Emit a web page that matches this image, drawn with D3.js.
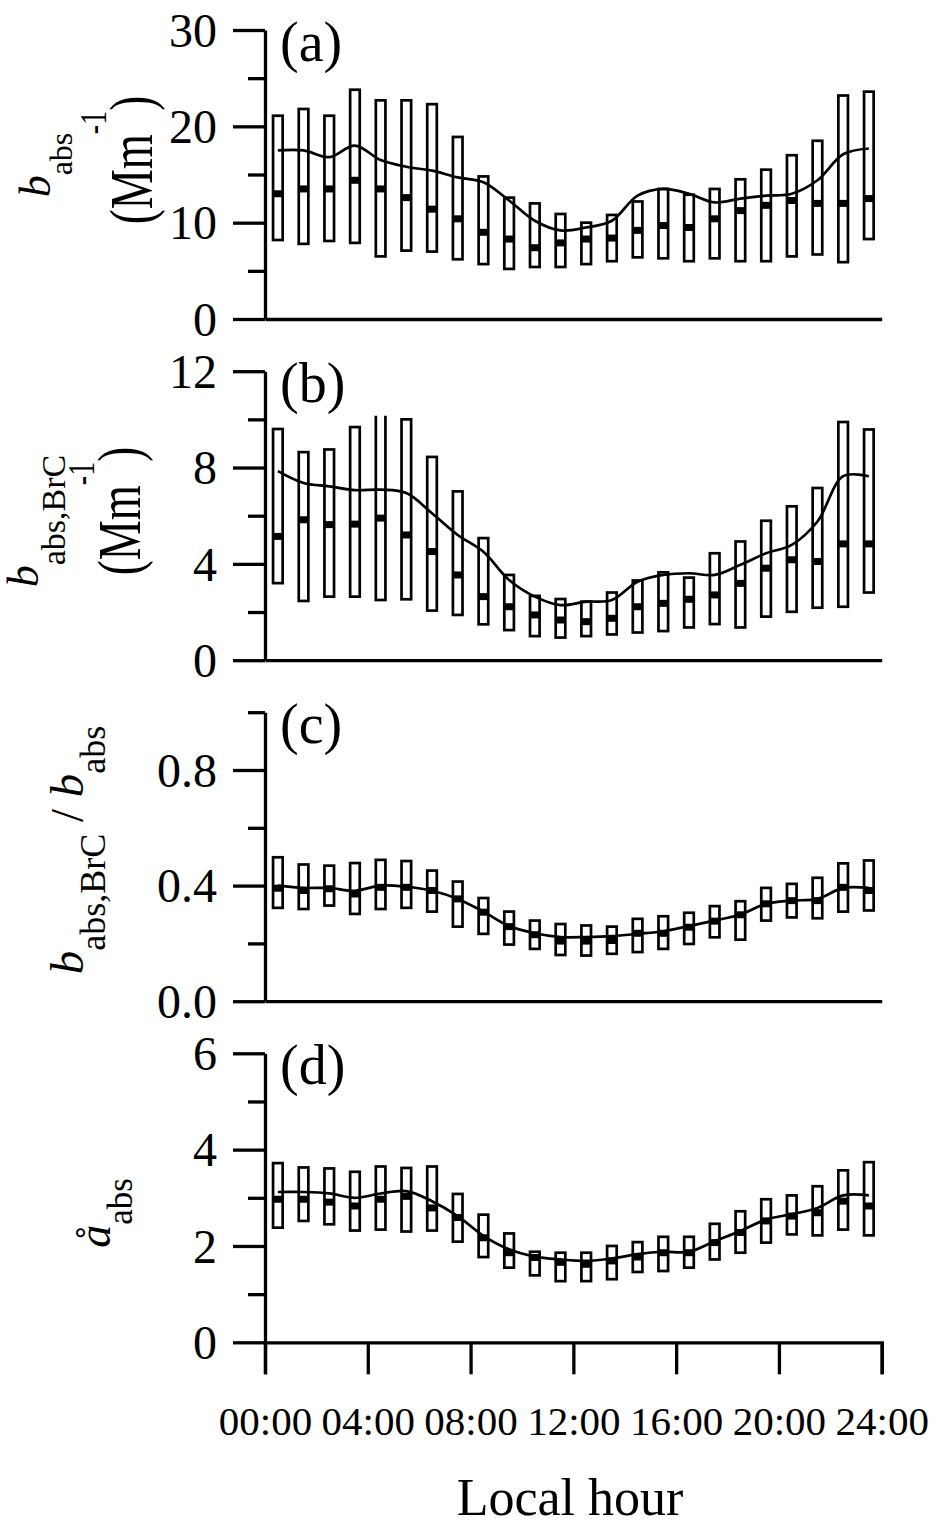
<!DOCTYPE html>
<html>
<head>
<meta charset="utf-8">
<script src="https://cdn.jsdelivr.net/npm/d3@7"></script>
<style>
  html, body { margin: 0; padding: 0; background: #fff; }
  svg { display: block; }
  text { font-family: "Liberation Serif", "Times New Roman", serif; fill: #000; }
</style>
</head>
<body>
<svg id="chart" width="940" height="1528"></svg>
<script>
// ---------------- DATA ----------------
const hours = [0.5,1.5,2.5,3.5,4.5,5.5,6.5,7.5,8.5,9.5,10.5,11.5,12.5,13.5,14.5,15.5,16.5,17.5,18.5,19.5,20.5,21.5,22.5,23.5];
const xTickValues = [0,4,8,12,16,20,24];
const xTickLabels = ["00:00","04:00","08:00","12:00","16:00","20:00","24:00"];

// (a) b_abs (Mm-1)
const q3A   = [21.1,21.8,21.1,23.8,22.7,22.7,22.3,18.9,14.8,12.6,12.0,10.9,10.0,10.8,12.2,13.5,12.9,13.5,14.5,15.5,17.0,18.5,23.2,23.6];
const q1A   = [8.2,7.8,8.1,7.9,6.5,7.1,7.0,6.2,5.7,5.2,5.4,5.4,5.7,6.0,6.4,6.3,6.0,6.3,6.0,6.0,6.5,6.7,5.9,8.3];
const medA  = [13.0,13.5,13.5,14.4,13.5,12.6,11.4,10.4,9.0,8.3,7.4,7.9,8.3,8.4,9.2,9.7,9.5,10.4,11.25,11.8,12.3,12.0,12.0,12.5];
const meanA = [17.5,17.5,16.8,18.0,16.5,15.8,15.4,14.7,14.2,12.3,10.2,9.2,9.5,10.2,12.8,13.5,13.0,12.1,12.5,12.8,13.0,14.4,17.1,17.7];

// (b) b_abs,BrC (Mm-1)
const q3B   = [9.6,8.64,8.75,9.68,10.4,10.0,8.44,7.01,5.07,3.54,2.67,2.54,2.43,2.81,3.31,3.65,3.43,4.44,4.93,5.79,6.39,7.15,9.89,9.58];
const q1B   = [3.2,2.46,2.64,2.64,2.5,2.53,2.06,1.88,1.49,1.25,1.0,0.94,1.0,1.07,1.15,1.21,1.36,1.5,1.36,1.81,2.01,2.18,2.22,2.81];
const medB  = [5.14,5.83,5.63,5.65,5.9,5.2,4.51,3.54,2.64,2.22,1.88,1.67,1.6,1.74,2.22,2.36,2.53,2.71,3.19,3.82,4.17,4.1,4.83,4.83];
const meanB = [7.85,7.36,7.22,7.06,7.08,6.94,6.1,5.2,4.5,3.33,2.64,2.29,2.43,2.5,3.26,3.54,3.61,3.54,3.96,4.44,4.79,5.76,7.64,7.64];

// (c) b_abs,BrC / b_abs
const q3C   = [0.498,0.473,0.469,0.478,0.489,0.485,0.452,0.414,0.357,0.31,0.279,0.267,0.262,0.258,0.285,0.294,0.306,0.329,0.346,0.392,0.406,0.427,0.477,0.487];
const q1C   = [0.323,0.319,0.331,0.302,0.319,0.323,0.31,0.258,0.233,0.196,0.181,0.16,0.158,0.164,0.17,0.181,0.198,0.221,0.213,0.279,0.29,0.287,0.31,0.314];
const medC  = [0.391,0.383,0.389,0.371,0.394,0.394,0.383,0.354,0.308,0.258,0.23,0.208,0.208,0.21,0.235,0.235,0.256,0.277,0.299,0.337,0.348,0.348,0.394,0.383];
const meanC = [0.40,0.392,0.392,0.382,0.40,0.396,0.382,0.354,0.31,0.26,0.235,0.222,0.222,0.225,0.233,0.242,0.26,0.279,0.30,0.337,0.348,0.354,0.392,0.392];

// (d) absorption Angstrom exponent
const q3D   = [3.72,3.63,3.61,3.54,3.65,3.62,3.65,3.08,2.65,2.26,1.88,1.86,1.86,2.0,2.08,2.19,2.19,2.46,2.72,2.97,3.05,3.24,3.57,3.74];
const q1D   = [2.38,2.52,2.45,2.32,2.34,2.30,2.32,2.09,1.77,1.55,1.39,1.27,1.27,1.31,1.46,1.48,1.55,1.72,1.86,2.07,2.24,2.22,2.34,2.22];
const medD  = [2.97,2.97,2.91,2.83,2.97,3.03,2.79,2.59,2.17,1.86,1.76,1.66,1.62,1.69,1.77,1.86,1.86,2.07,2.28,2.52,2.62,2.69,2.93,2.83];
const meanD = [3.12,3.12,3.09,3.0,3.09,3.14,2.93,2.62,2.21,1.93,1.78,1.72,1.69,1.74,1.83,1.88,1.88,2.10,2.31,2.55,2.66,2.79,3.05,3.05];

// axis tick values
const majorA = [0,10,20,30],       minorA = [5,15,25];
const majorB = [0,4,8,12],         minorB = [2,6,10];
const majorC = [0,0.4,0.8],        minorC = [0.2,0.6,1.0];
const majorD = [0,2,4,6],          minorD = [1,3,5];
const panelLetters = ["(a)","(b)","(c)","(d)"];

// ---------------- LAYOUT ----------------
const svg = d3.select("#chart");
const X0 = 265, X1 = 881.7;
const x = d3.scaleLinear().domain([0,24]).range([X0, X1]);
const panelTop = [30, 371.2, 712.2, 1053.3];
const panelH = 289;

const panels = [
  {q3:q3A,q1:q1A,med:medA,mean:meanA,max:30, major:majorA,minor:minorA,fmt:d3.format("d"),  clipMax:30},
  {q3:q3B,q1:q1B,med:medB,mean:meanB,max:12, major:majorB,minor:minorB,fmt:d3.format("d"),  clipMax:10.15},
  {q3:q3C,q1:q1C,med:medC,mean:meanC,max:1.0,major:majorC,minor:minorC,fmt:d3.format(".1f"),clipMax:1.0},
  {q3:q3D,q1:q1D,med:medD,mean:meanD,max:6,  major:majorD,minor:minorD,fmt:d3.format("d"),  clipMax:6}
];

const boxW = 9.6;
const defs = svg.append("defs");

panels.forEach((p, i) => {
  const top = panelTop[i], bottom = top + panelH;
  const y = d3.scaleLinear().domain([0, p.max]).range([bottom, top]);
  const g = svg.append("g");

  // clip
  const cid = "clip" + i;
  defs.append("clipPath").attr("id", cid)
    .append("rect").attr("x", X0).attr("y", y(p.clipMax)).attr("width", X1 - X0 + 20).attr("height", bottom - y(p.clipMax));

  // boxes
  const bg = g.append("g").attr("clip-path", `url(#${cid})`);
  bg.selectAll("rect.box").data(hours).join("rect").attr("class","box")
    .attr("x", (h) => x(h) - boxW/2)
    .attr("y", (h, j) => y(p.q3[j]))
    .attr("width", boxW)
    .attr("height", (h, j) => y(p.q1[j]) - y(p.q3[j]))
    .attr("fill", "none").attr("stroke", "#000").attr("stroke-width", 2.7);
  // medians
  bg.selectAll("rect.med").data(hours).join("rect").attr("class","med")
    .attr("x", (h) => x(h) - boxW/2)
    .attr("y", (h, j) => y(p.med[j]) - 3.5)
    .attr("width", boxW).attr("height", 7).attr("fill", "#000");

  // mean line
  const line = d3.line().x((d) => x(d[0])).y((d) => y(d[1])).curve(d3.curveCatmullRom.alpha(0.5));
  g.append("path").datum(hours.map((h, j) => [h, p.mean[j]]))
    .attr("d", line).attr("fill", "none").attr("stroke", "#000").attr("stroke-width", 2.7);

  // y axis major
  const yAx = g.append("g").attr("transform", `translate(${X0},0)`)
    .call(d3.axisLeft(y).tickValues(p.major).tickFormat(p.fmt).tickSize(32).tickSizeOuter(0).tickPadding(16));
  yAx.selectAll("line").attr("stroke", "#000").attr("stroke-width", 3.3);
  yAx.select(".domain").attr("stroke", "#000").attr("stroke-width", 3.3);
  yAx.selectAll("text").attr("font-size", 48).attr("font-family", '"Liberation Serif", serif').attr("dy", "0.34em");
  // y axis minor
  const yMin = g.append("g").attr("transform", `translate(${X0},0)`)
    .call(d3.axisLeft(y).tickValues(p.minor).tickFormat("").tickSize(17).tickSizeOuter(0));
  yMin.selectAll("line").attr("stroke", "#000").attr("stroke-width", 3.3);
  yMin.select(".domain").remove();

  // x axis
  const isLast = i === panels.length - 1;
  const xAxis = d3.axisBottom(x).tickValues(xTickValues).tickSizeOuter(0);
  if (isLast) {
    xAxis.tickSize(32).tickPadding(30).tickFormat((d, k) => xTickLabels[k]);
  } else {
    xAxis.tickSize(0).tickFormat("");
  }
  const xAx = g.append("g").attr("transform", `translate(0,${bottom})`).call(xAxis);
  xAx.select(".domain").attr("stroke", "#000").attr("stroke-width", 3.3);
  xAx.selectAll("line").attr("stroke", "#000").attr("stroke-width", 3.3);
  if (!isLast) xAx.selectAll(".tick").remove();
  xAx.selectAll("text").attr("font-size", 41).attr("font-family", '"Liberation Serif", serif').attr("dy", "0.74em");

  // panel letter
  g.append("text").attr("x", 280).attr("y", top + 31)
    .attr("font-size", 56).text(panelLetters[i]);
});

// ---------------- Y TITLES ----------------
function rotText(xp, yp, sx) {
  return svg.append("text")
    .attr("transform", `translate(${xp},${yp}) scale(${sx},1) rotate(-90)`)
    .attr("text-anchor", "middle");
}
// (a)
let t = rotText(50, 165, 1);
t.append("tspan").attr("font-style", "italic").attr("font-size", 44).text("b");
t.append("tspan").attr("font-size", 32).attr("dy", 22).text("abs");
t = rotText(152, 160, 1.35);
t.append("tspan").attr("font-size", 45).text("(Mm");
t.append("tspan").attr("font-size", 28).attr("dy", -34).text("-1");
t.append("tspan").attr("font-size", 45).attr("dy", 34).text(")");
// (b)
t = rotText(38, 521, 1);
t.append("tspan").attr("font-style", "italic").attr("font-size", 44).text("b");
t.append("tspan").attr("font-size", 34).attr("dy", 27).text("abs,BrC");
t = rotText(140, 511, 1.35);
t.append("tspan").attr("font-size", 45).text("(Mm");
t.append("tspan").attr("font-size", 28).attr("dy", -34).text("-1");
t.append("tspan").attr("font-size", 45).attr("dy", 34).text(")");
// (c)
t = rotText(83, 850, 1);
t.append("tspan").attr("font-style", "italic").attr("font-size", 47).text("b");
t.append("tspan").attr("font-size", 36).attr("dy", 22).text("abs,BrC");
t.append("tspan").attr("font-size", 47).attr("dy", -22).text(" / ");
t.append("tspan").attr("font-style", "italic").attr("font-size", 47).text("b");
t.append("tspan").attr("font-size", 36).attr("dy", 22).text("abs");
// (d)
t = rotText(110, 1213, 1);
t.append("tspan").attr("font-style", "italic").attr("font-size", 46).text("å");
t.append("tspan").attr("font-size", 35).attr("dy", 22).text("abs");

// ---------------- X TITLE ----------------
svg.append("text").attr("x", 570).attr("y", 1515).attr("text-anchor", "middle")
  .attr("font-size", 52).text("Local hour");
</script>
</body>
</html>
